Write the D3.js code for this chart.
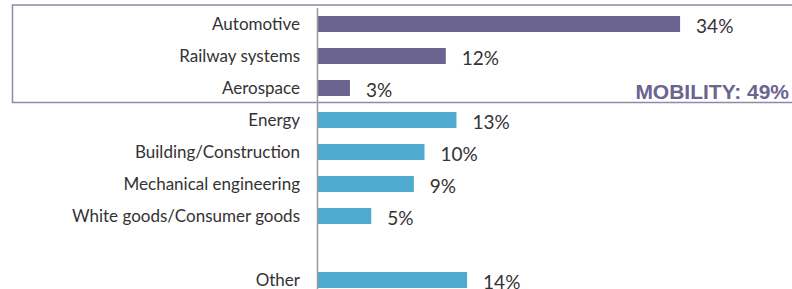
<!DOCTYPE html>
<html>
<head>
<meta charset="utf-8">
<script src="https://cdn.jsdelivr.net/npm/d3@7"></script>
<style>
  body { margin: 0; background: #fff; }
  svg { display: block; }
  .cat-label { font-family: Lato, "Open Sans", sans-serif; font-size: 17px; fill: #333; }
  .val-label { font-family: Lato, "Open Sans", sans-serif; font-size: 19px; fill: #333; }
</style>
</head>
<body>
<div id="chart"></div>
<script>
// Industry shares
const mobilityCats = ["Automotive", "Railway systems", "Aerospace"];
const mobilityVals = [34, 12, 3];
const industryCats = ["Energy", "Building/Construction", "Mechanical engineering", "White goods/Consumer goods"];
const industryVals = [13, 10, 9, 5];
const otherCats = ["Other"];
const otherVals = [14];
const mobilityTotal = "MOBILITY: 49%";

const colors = {
    mobility: "#6b6491",
    industry: "#50a9ce",
    box: "#8f89ad",
    axis: "#9a9a9a"
};

const width = 792, height = 289;
const gapKey = "__gap__";

const rows = [
    ...mobilityCats.map((c, i) => ({cat: c, value: mobilityVals[i], group: "mobility"})),
    ...industryCats.map((c, i) => ({cat: c, value: industryVals[i], group: "industry"})),
    ...otherCats.map((c, i) => ({cat: c, value: otherVals[i], group: "industry"}))
];
const yDomain = [...mobilityCats, ...industryCats, gapKey, ...otherCats];

const svg = d3.select("#chart").append("svg")
    .attr("width", width)
    .attr("height", height);

const x = d3.scaleLinear().domain([0, 40]).range([318, 744]);
const y = d3.scaleBand()
    .domain(yDomain)
    .range([8, 296])
    .paddingInner(0.5)
    .paddingOuter(0.25);

// Box around the mobility group
svg.append("rect")
    .attr("x", 12.5)
    .attr("y", 5)
    .attr("width", 800)
    .attr("height", 97.5)
    .attr("fill", "none")
    .attr("stroke", colors.box)
    .attr("stroke-width", 1.5);

// Bars
svg.selectAll(".bar")
    .data(rows)
    .enter()
    .append("rect")
    .attr("class", "bar")
    .attr("x", x(0))
    .attr("y", d => y(d.cat))
    .attr("width", d => x(d.value) - x(0))
    .attr("height", y.bandwidth())
    .attr("fill", d => colors[d.group]);

// Vertical axis line
svg.append("line")
    .attr("x1", x(0) - 0.5)
    .attr("x2", x(0) - 0.5)
    .attr("y1", 8)
    .attr("y2", height)
    .attr("stroke", colors.axis)
    .attr("stroke-width", 1.5);

// Category labels
svg.selectAll(".cat-label")
    .data(rows)
    .enter()
    .append("text")
    .attr("class", "cat-label")
    .attr("x", 300)
    .attr("y", d => y(d.cat) + y.bandwidth() / 2)
    .attr("dy", "0.35em")
    .attr("text-anchor", "end")
    .text(d => d.cat);

// Value labels
svg.selectAll(".val-label")
    .data(rows)
    .enter()
    .append("text")
    .attr("class", "val-label")
    .attr("x", d => x(d.value) + 16)
    .attr("y", d => y(d.cat) + y.bandwidth() / 2 + 2)
    .attr("dy", "0.35em")
    .text(d => d.value + "%");

// Mobility total
svg.append("text")
    .attr("x", 789)
    .attr("y", 99)
    .attr("text-anchor", "end")
    .style("font-family", "'Liberation Sans', Arial, sans-serif")
    .style("font-size", "21px")
    .style("font-weight", "bold")
    .style("fill", colors.mobility)
    .text(mobilityTotal);
</script>
</body>
</html>
